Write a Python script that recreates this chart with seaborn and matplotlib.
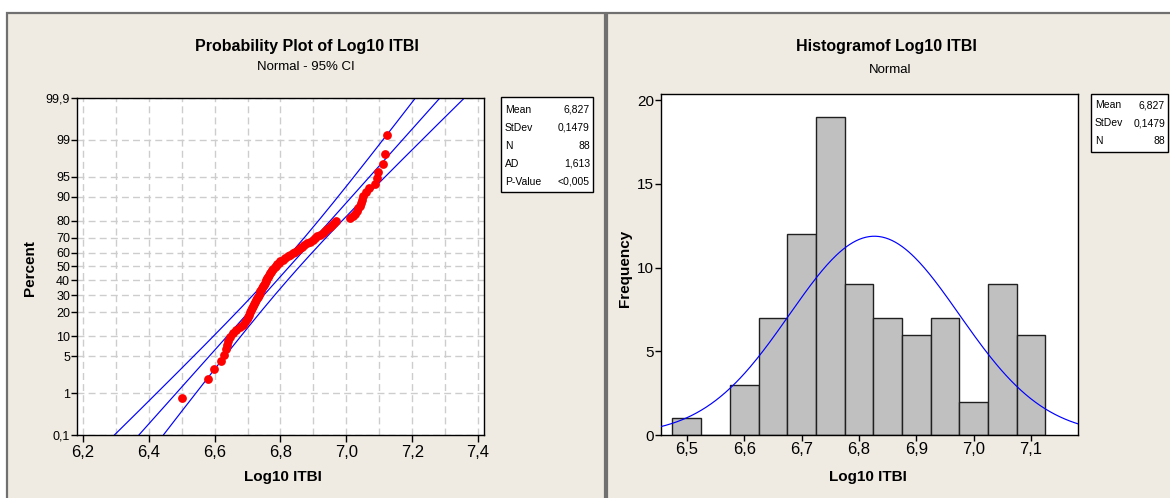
import numpy as np
import pandas as pd
import matplotlib
matplotlib.use("Agg")
import matplotlib.pyplot as plt
from matplotlib.patches import Rectangle
from matplotlib.ticker import FixedLocator, MultipleLocator
import seaborn as sns
from statistics import NormalDist

# Log10 ITBI values (sorted, n = 88)
log10_itbi = [
    6.500, 6.580, 6.597, 6.620, 6.628, 6.633, 6.637, 6.640, 6.648, 6.657,
    6.665, 6.678, 6.686, 6.692, 6.697, 6.700, 6.703, 6.706, 6.709, 6.712,
    6.716, 6.719, 6.722, 6.727, 6.730, 6.733, 6.735, 6.737, 6.739, 6.742,
    6.745, 6.748, 6.750, 6.752, 6.755, 6.757, 6.760, 6.762, 6.764, 6.767,
    6.770, 6.773, 6.778, 6.782, 6.786, 6.790, 6.795, 6.800, 6.808, 6.815,
    6.822, 6.830, 6.838, 6.845, 6.852, 6.858, 6.864, 6.870, 6.880, 6.890,
    6.898, 6.905, 6.912, 6.920, 6.928, 6.935, 6.942, 6.950, 6.957, 6.963,
    6.970, 7.010, 7.020, 7.027, 7.032, 7.036, 7.040, 7.044, 7.048, 7.052,
    7.060, 7.070, 7.088, 7.092, 7.095, 7.110, 7.118, 7.122,
]

# summary statistics printed in the boxes
stat_mean = 6.827
stat_stdev = 0.1479
stat_n = 88
stat_ad = 1.613
stat_pvalue = "<0,005"

percent_ticks = [0.1, 1, 5, 10, 20, 30, 40, 50, 60, 70, 80, 90, 95, 99, 99.9]
prob_x_ticks = [6.2, 6.4, 6.6, 6.8, 7.0, 7.2, 7.4]
hist_x_ticks = [6.5, 6.6, 6.7, 6.8, 6.9, 7.0, 7.1]
hist_y_ticks = [0, 5, 10, 15, 20]
bin_start = 6.475
bin_width = 0.05
n_bins = 13

W, H = 1170, 498
BEIGE = "#EFEBE2"
BLUE = "#0000FF"


def comma(v, fmt="{:.1f}"):
    return fmt.format(v).replace(".", ",")


def fx(x):
    return x / W


def fy(y):
    return 1 - y / H


sns.set_style("white")
plt.rcParams["font.family"] = ["Liberation Sans", "DejaVu Sans"]
plt.rcParams["text.color"] = "black"
plt.rcParams["xtick.color"] = "black"
plt.rcParams["ytick.color"] = "black"

fig = plt.figure(figsize=(W / 100, H / 100), dpi=100)
fig.patch.set_facecolor("white")

# the two Minitab graph windows, behind everything
for x0, x1 in [(7, 605), (607, 1185)]:
    fig.patches.append(Rectangle((fx(x0), fy(510)), fx(x1 - x0), (510 - 13) / H,
                                 transform=fig.transFigure, facecolor=BEIGE,
                                 edgecolor="#707070", linewidth=1.6, zorder=-5))

nd = NormalDist()
df = pd.DataFrame({"x": log10_itbi})
df["rank"] = np.arange(1, len(df) + 1)
df["z"] = [nd.inv_cdf((r - 0.3) / (len(df) + 0.4)) for r in df["rank"]]

# ---------- Probability plot ----------
ax1 = fig.add_axes([fx(77), fy(435), fx(484 - 77), (435 - 98) / H])
ax1.set_facecolor("white")

z_line = np.linspace(-3.6, 3.6, 300)
half = 1.96 * stat_stdev * np.sqrt((1 + z_line ** 2 / 2) / stat_n)
lines = pd.DataFrame({
    "z": np.concatenate([z_line] * 3),
    "x": np.concatenate([stat_mean + stat_stdev * z_line - half,
                         stat_mean + stat_stdev * z_line,
                         stat_mean + stat_stdev * z_line + half]),
    "band": np.repeat(["lower", "fit", "upper"], len(z_line)),
})
sns.lineplot(data=lines, x="x", y="z", units="band", estimator=None, sort=False,
             color=BLUE, linewidth=0.85, ax=ax1, zorder=2)
sns.scatterplot(data=df, x="x", y="z", color="#FF0000", s=40, linewidth=0,
                ax=ax1, zorder=3)

ax1.set_xlim(6.182, 7.418)
ax1.set_ylim(nd.inv_cdf(0.001), nd.inv_cdf(0.999))
z_ticks = [nd.inv_cdf(p / 100) for p in percent_ticks]
ax1.yaxis.set_major_locator(FixedLocator(z_ticks))
ax1.set_yticklabels([comma(p, "{:g}") for p in percent_ticks], fontsize=9)
ax1.xaxis.set_major_locator(FixedLocator(prob_x_ticks))
ax1.xaxis.set_minor_locator(MultipleLocator(0.1))
ax1.set_xticklabels([comma(v) for v in prob_x_ticks], fontsize=12)
ax1.grid(True, which="both", color="#CDCDCD", linestyle=(0, (5, 3)), linewidth=1)
ax1.set_axisbelow(True)
ax1.tick_params(axis="y", which="major", direction="out", length=4, width=1,
                left=True, pad=1)
ax1.tick_params(axis="x", which="major", direction="out", length=5, width=1,
                bottom=True, pad=2)
ax1.tick_params(axis="x", which="minor", length=0)
ax1.set_xlabel("")
ax1.set_ylabel("")
for s in ax1.spines.values():
    s.set_color("black")
    s.set_linewidth(1)

# ---------- Histogram ----------
ax2 = fig.add_axes([fx(661), fy(435), fx(1078 - 661), (435 - 94) / H])
ax2.set_facecolor("white")
edges = bin_start + bin_width * np.arange(n_bins + 1)
sns.histplot(data=df, x="x", bins=edges, color="#C0C0C0", alpha=1,
             edgecolor="#202020", linewidth=1, ax=ax2, zorder=2)

xs = np.linspace(6.40, 7.25, 300)
curve = pd.DataFrame({"x": xs})
curve["y"] = [stat_n * bin_width * NormalDist(stat_mean, stat_stdev).pdf(v) for v in xs]
sns.lineplot(data=curve, x="x", y="y", color=BLUE, linewidth=0.85, ax=ax2, zorder=3)

ax2.set_xlim(6.455, 7.182)
ax2.set_ylim(0, 20.36)
ax2.set_xticks(hist_x_ticks)
ax2.set_xticklabels([comma(v) for v in hist_x_ticks], fontsize=12)
ax2.set_yticks(hist_y_ticks)
ax2.set_yticklabels([str(v) for v in hist_y_ticks], fontsize=11)
ax2.tick_params(axis="both", direction="out", length=4, width=1,
                left=True, bottom=True, pad=1)
ax2.set_xlabel("")
ax2.set_ylabel("")
for s in ax2.spines.values():
    s.set_color("black")
    s.set_linewidth(1)

# ---------- titles and labels ----------
fig.text(fx(307), fy(47), "Probability Plot of Log10 ITBI", ha="center", va="center",
         fontsize=11.5, fontweight="bold")
fig.text(fx(306), fy(67), "Normal - 95% CI", ha="center", va="center", fontsize=9.5)
fig.text(fx(886), fy(47), "Histogramof Log10 ITBI", ha="center", va="center",
         fontsize=11.5, fontweight="bold")
fig.text(fx(890), fy(70), "Normal", ha="center", va="center", fontsize=9.5)

fig.text(fx(30), fy(268), "Percent", rotation=90, ha="center", va="center",
         fontsize=11, fontweight="bold")
fig.text(fx(283), fy(477), "Log10 ITBI", ha="center", va="center",
         fontsize=11, fontweight="bold")
fig.text(fx(625), fy(268), "Frequency", rotation=90, ha="center", va="center",
         fontsize=11, fontweight="bold")
fig.text(fx(868), fy(477), "Log10 ITBI", ha="center", va="center",
         fontsize=11, fontweight="bold")


# ---------- statistics boxes ----------
def stat_box(x0, x1, y0, y1, rows, row_y):
    fig.patches.append(Rectangle((fx(x0), fy(y1)), fx(x1 - x0), (y1 - y0) / H,
                                 transform=fig.transFigure, facecolor="white",
                                 edgecolor="black", linewidth=1, zorder=5))
    for (lab, val), yy in zip(rows, row_y):
        fig.text(fx(x0 + 4), fy(yy), lab, ha="left", va="center", fontsize=7.5, zorder=6)
        fig.text(fx(x1 - 3), fy(yy), val, ha="right", va="center", fontsize=7.5, zorder=6)


rows_prob = [("Mean", comma(stat_mean, "{:.3f}")), ("StDev", comma(stat_stdev, "{:.4f}")),
             ("N", str(stat_n)), ("AD", comma(stat_ad, "{:.3f}")), ("P-Value", stat_pvalue)]
stat_box(501, 593, 97, 192, rows_prob, [110, 128, 146, 164, 182])
stat_box(1091, 1168, 94, 152, rows_prob[:3], [105, 123, 141])

fig.savefig("out.png", dpi=100, facecolor=fig.get_facecolor())
